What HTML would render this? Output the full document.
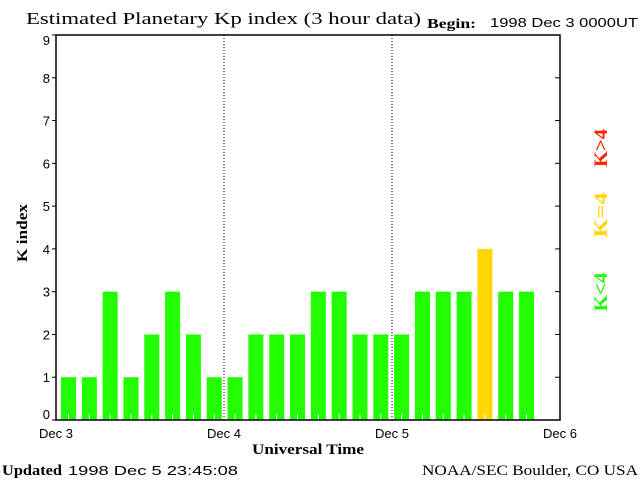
<!DOCTYPE html>
<html><head><meta charset="utf-8"><style>
body{margin:0;background:#fff;width:640px;height:480px;overflow:hidden}
svg{display:block}
.s{font-family:"Liberation Sans",sans-serif;font-size:13px}
.r{font-family:"Liberation Serif",serif;font-weight:bold}
</style></head><body>
<svg id="c" width="640" height="480">
<text class="r" x="26" y="24" font-size="17" style="font-weight:normal" textLength="395" lengthAdjust="spacingAndGlyphs">Estimated Planetary Kp index (3 hour data)</text>
<text class="r" x="427" y="28" font-size="14" textLength="49" lengthAdjust="spacingAndGlyphs">Begin:</text>
<text class="s" x="490" y="27" font-size="14" textLength="148" lengthAdjust="spacingAndGlyphs">1998 Dec 3 0000UT</text>
<text class="r" transform="translate(27,233) rotate(-90)" text-anchor="middle" font-size="15" textLength="58" lengthAdjust="spacingAndGlyphs">K index</text>
<text class="r" x="252" y="454" font-size="15" textLength="112" lengthAdjust="spacingAndGlyphs">Universal Time</text>
<text class="r" x="2" y="475" font-size="15" textLength="60" lengthAdjust="spacingAndGlyphs">Updated</text>
<text class="s" x="68" y="475" font-size="15" textLength="170" lengthAdjust="spacingAndGlyphs">1998 Dec  5 23:45:08</text>
<text class="r" x="422" y="475" font-size="15" style="font-weight:normal" textLength="216" lengthAdjust="spacingAndGlyphs">NOAA/SEC Boulder, CO USA</text>
<g id="bars"></g><g id="axes"></g>
<text class="r" transform="translate(607,148) rotate(-90)" text-anchor="middle" font-size="19" fill="#ff2200" textLength="38" lengthAdjust="spacingAndGlyphs">K&gt;4</text>
<text class="r" transform="translate(607,215) rotate(-90)" text-anchor="middle" font-size="19" fill="#ffd700" textLength="45" lengthAdjust="spacingAndGlyphs">K=4</text>
<text class="r" transform="translate(607,292) rotate(-90)" text-anchor="middle" font-size="19" fill="#22ff00" textLength="39" lengthAdjust="spacingAndGlyphs">K&lt;4</text>
</svg>
<script>
const kpValues=[1,1,3,1,2,3,2,1, 1,2,2,2,3,3,2,2, 2,3,3,3,4,3,3];
const dayLabels=["Dec 3","Dec 4","Dec 5","Dec 6"];
const yTicks=[0,1,2,3,4,5,6,7,8,9];
const L=56,R=560,T=35,B=420,slot=21,barSlot=20.82,unit=(B-T)/9;
const XB=i=>61+i*barSlot, Y=v=>B-v*unit;
const ns="http://www.w3.org/2000/svg";
function mk(p,t,a){const e=document.createElementNS(ns,t);for(const k in a)e.setAttribute(k,a[k]);p.appendChild(e);return e;}
const bars=document.getElementById('bars'),ax=document.getElementById('axes');
kpValues.forEach((v,i)=>{
 const col=v<4?'#22ff00':(v==4?'#ffd700':'#ff2200');
 const r=mk(bars,'rect',{x:XB(i),y:Y(v),width:15,height:B-Y(v),fill:col});
 
 
 const t=mk(bars,'line',{x1:XB(i)+7.5,x2:XB(i)+7.5,y1:B-6,y2:B,stroke:'#fff','stroke-width':1});
 
 
});
const f=mk(ax,'rect',{x:L,y:T,width:R-L,height:B-T,fill:'none',stroke:'#000','stroke-width':1.5});


yTicks.forEach(v=>{
 mk(ax,'line',{x1:L-4,x2:L,y1:Y(v),y2:Y(v),stroke:'#000'});
 mk(ax,'line',{x1:R-5,x2:R,y1:Y(v),y2:Y(v),stroke:'#000'});
 const yy=v==0?Y(v)-1:(v==9?Y(v)+10:Y(v)+5);
 const t=mk(ax,'text',{x:L-6,y:yy,'text-anchor':'end',class:'s','font-size':15});
 t.textContent=v;
 
 
});
dayLabels.forEach((d,i)=>{
 const x=L+i*8*slot;
 if(i>0&&i<3){const l=mk(ax,'line',{x1:x,x2:x,y1:T,y2:B,stroke:'#000','stroke-dasharray':'1,2'});
 
 }
 const t=mk(ax,'text',{x:x,y:438,'text-anchor':'middle',class:'s'});
 t.textContent=d;
 
 
});
</script>
</body></html>
